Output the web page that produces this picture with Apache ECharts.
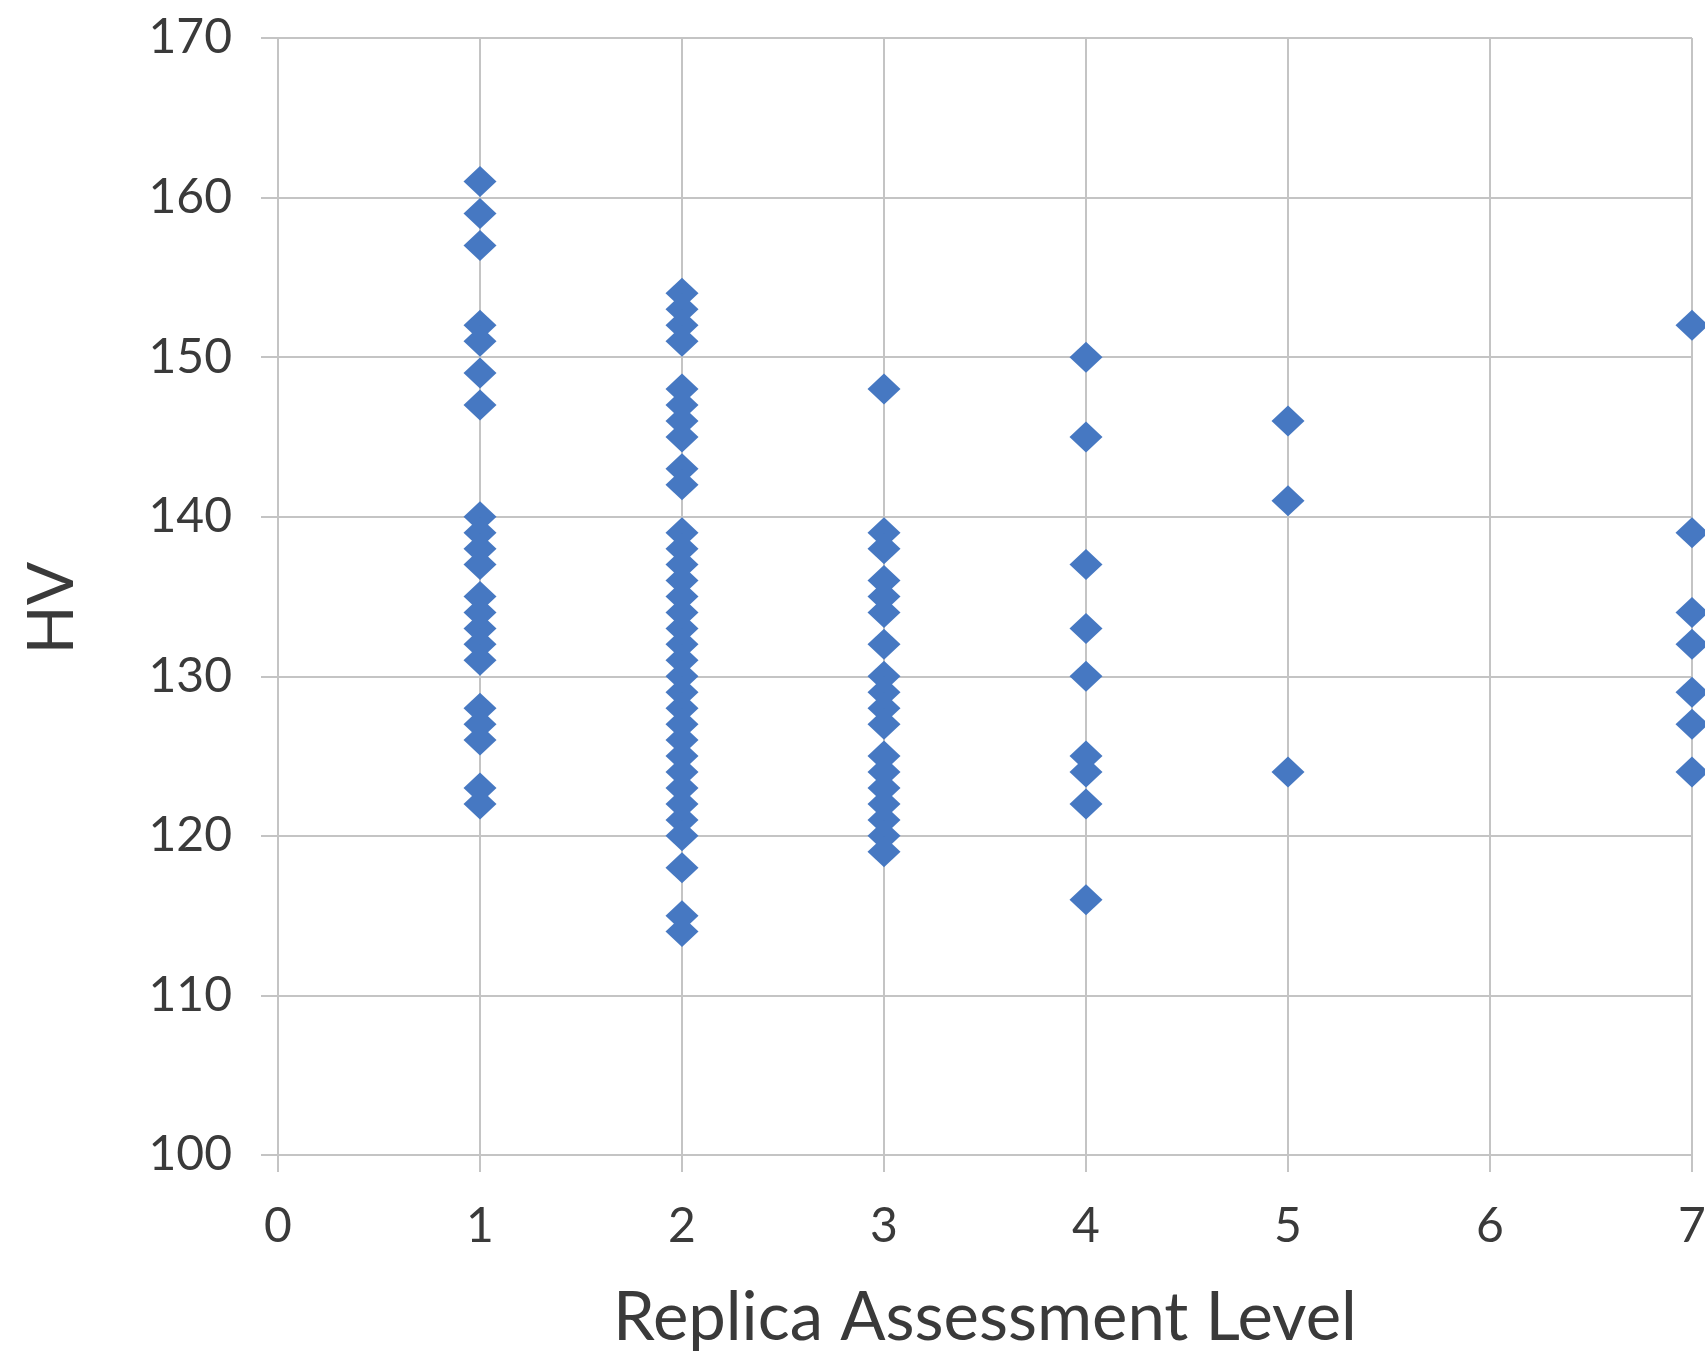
<!DOCTYPE html>
<html>
<head>
<meta charset="utf-8">
<script src="https://cdn.jsdelivr.net/npm/echarts@6/dist/echarts.min.js"></script>
<style>
html,body{margin:0;padding:0;background:#fff;}
#chart{width:1705px;height:1351px;}
</style>
</head>
<body>
<div id="chart"></div>
<script>
// Hardness (HV) values read per Replica Assessment Level
const level1 = [161,159,157,152,151,149,147,140,139,138,137,135,134,133,132,131,128,127,126,123,122];
const level2 = [154,153,152,151,148,147,146,145,143,142,139,138,137,136,135,134,133,132,131,130,129,128,127,126,125,124,123,122,121,120,118,115,114];
const level3 = [148,139,138,136,135,134,132,130,129,128,127,125,124,123,122,121,120,119];
const level4 = [150,145,137,133,130,125,124,122,116];
const level5 = [146,141,124];
const level6 = [];
const level7 = [152,139,134,132,129,127,124];
const levels = [1,2,3,4,5,6,7];
const xTicks = [0,1,2,3,4,5,6,7];
const yTicks = [100,110,120,130,140,150,160,170];
const xTitle = 'Replica Assessment Level';
const yTitle = 'HV';

const groups = [level1, level2, level3, level4, level5, level6, level7];
const points = [];
groups.forEach((vals, i) => vals.forEach(v => points.push([levels[i], v])));

const FONT = 'Lato';
const TEXT = '#3a3a3a';
const GRID = '#c4c4c4';

const chart = echarts.init(document.getElementById('chart'), null, {renderer: 'canvas'});
chart.setOption({
  backgroundColor: '#ffffff',
  animation: false,
  grid: {left: 278, right: 13, top: 38, bottom: 196, containLabel: false, outerBoundsMode: 'none'},
  xAxis: {
    type: 'value', min: xTicks[0], max: xTicks[xTicks.length - 1], interval: 1,
    axisLine: {show: true, onZero: false, lineStyle: {color: GRID, width: 2}},
    axisTick: {show: true, length: 17, lineStyle: {color: GRID, width: 2}},
    splitLine: {show: true, lineStyle: {color: GRID, width: 2}},
    axisLabel: {color: TEXT, fontFamily: FONT, fontSize: 48, margin: 48, showMaxLabel: true, showMinLabel: true},
    name: xTitle, nameLocation: 'middle', nameGap: 130,
    nameTextStyle: {color: TEXT, fontFamily: FONT, fontSize: 67}
  },
  yAxis: {
    type: 'value', min: yTicks[0], max: yTicks[yTicks.length - 1], interval: 10,
    axisLine: {show: true, onZero: false, lineStyle: {color: GRID, width: 2}},
    axisTick: {show: true, length: 17, lineStyle: {color: GRID, width: 2}},
    splitLine: {show: true, lineStyle: {color: GRID, width: 2}},
    axisLabel: {color: TEXT, fontFamily: FONT, fontSize: 48, margin: 46}
  },
  graphic: [{
    type: 'text', left: 20, top: 562, rotation: Math.PI / 2,
    style: {text: yTitle, fill: TEXT, font: '64px ' + FONT}
  }],
  series: [{
    type: 'scatter', clip: false,
    symbol: 'diamond', symbolSize: [33, 31],
    itemStyle: {color: '#4678c2', opacity: 1},
    data: points
  }]
});
</script>
</body>
</html>
